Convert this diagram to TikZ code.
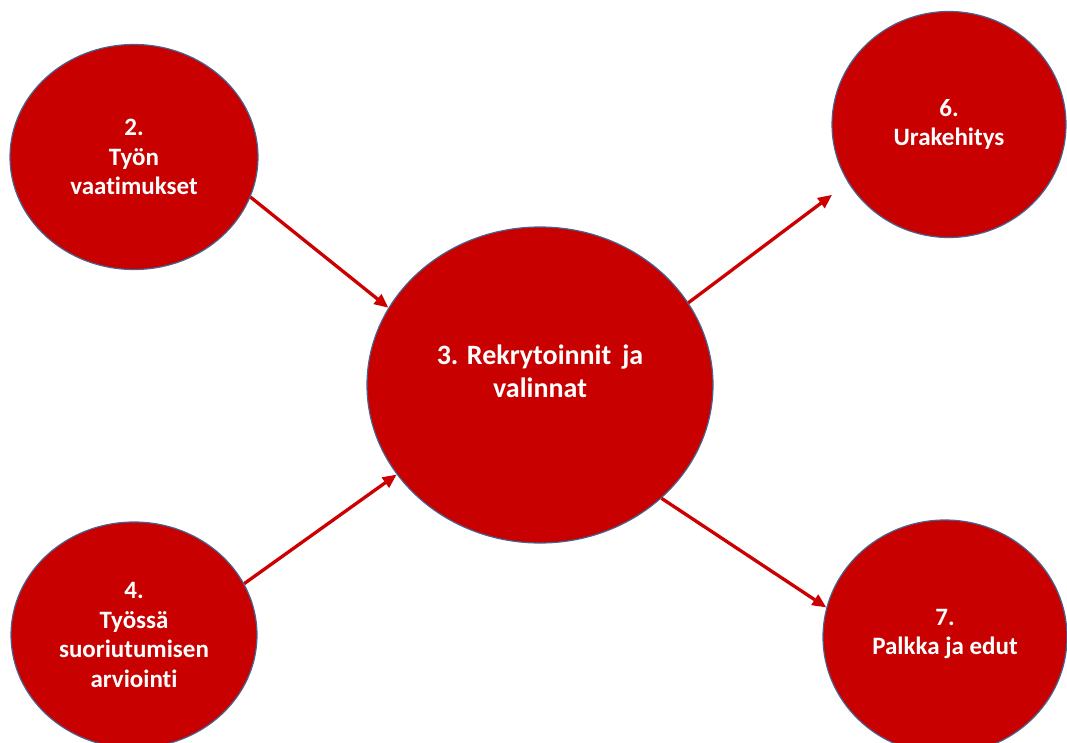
\documentclass[tikz,border=0pt]{standalone}
\usepackage{fontspec}
\setmainfont{Carlito}[RawFeature=-liga]
\usetikzlibrary{shapes.geometric,arrows.meta}
\definecolor{bubblered}{RGB}{200,0,0}
\definecolor{arrowred}{RGB}{204,0,0}
\definecolor{rimblue}{RGB}{70,100,145}
\tikzset{
  bubble/.style={ellipse, fill=bubblered, draw=rimblue, line width=1.2pt, inner sep=0pt},
  lbl/.style={text=white, font=\bfseries\fontsize{25}{29.5}\selectfont, align=center, inner sep=0pt},
  biglbl/.style={text=white, font=\bfseries\fontsize{28}{33}\selectfont, align=center, inner sep=0pt},
  flow/.style={draw=arrowred, line width=3.3pt, -{Triangle[length=14pt,width=12pt]}}
}
\begin{document}
\begin{tikzpicture}[x=1pt,y=-1pt]
  \useasboundingbox (0,0) rectangle (1067,742);
  \clip (0,0) rectangle (1067,742);
  % circles
  \node[bubble, minimum width=248pt, minimum height=225pt] (req) at (134,157) {};
  \node[bubble, minimum width=246pt, minimum height=226pt] (eval) at (134,635) {};
  \node[bubble, minimum width=346pt, minimum height=316pt] (rec) at (540,385) {};
  \node[bubble, minimum width=234pt, minimum height=226pt] (career) at (949,124.5) {};
  \node[bubble, minimum width=244pt, minimum height=234pt] (pay) at (945,637) {};
  % labels
  \node[lbl] (reqtxt) at (req.center) {2.\\Työn\\vaatimukset};
  \node[lbl] (evaltxt) at (eval.center) {4.\\Työssä\\suoriutumisen\\arviointi};
  \node[biglbl] (rectxt) at ([yshift=14pt]rec.center) {3. Rekrytoinnit\, ja\\valinnat};
  \node[lbl] (careertxt) at (career.center) {6.\\Urakehitys};
  \node[lbl] (paytxt) at ([yshift=3pt]pay.center) {7.\\Palkka ja edut};
  % connectors
  \draw[flow] (req.-19.5) -- (rec.153);
  \draw[flow] (eval.25.5) -- (rec.212.8);
  \draw[flow, shorten >=20pt] (rec.29.8) -- (career.210.5);
  \draw[flow] (rec.-43) -- (pay.166.6);
\end{tikzpicture}
\end{document}
